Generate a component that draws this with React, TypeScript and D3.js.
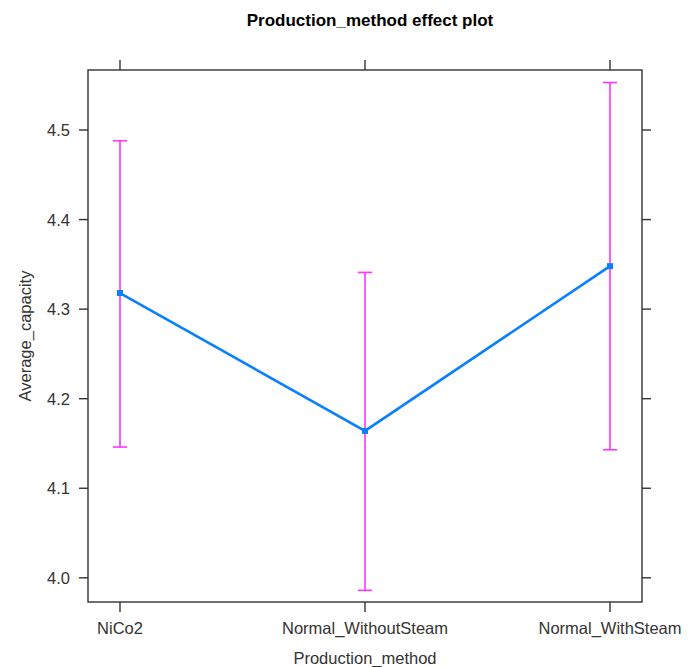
import React from 'react';
import * as d3 from 'd3';

const categories = ['NiCo2', 'Normal_WithoutSteam', 'Normal_WithSteam'];
const fitValues = [4.318, 4.164, 4.348];
const lowerValues = [4.146, 3.986, 4.143];
const upperValues = [4.488, 4.341, 4.553];
const yTicks = [4.0, 4.1, 4.2, 4.3, 4.4, 4.5];

const W = 700;
const H = 667;
const left = 88;
const right = 642;
const top = 70;
const bottom = 602;
const font = '"Liberation Sans", Arial, sans-serif';
const labelSize = 16.5;

export default function App() {
  const x = d3.scalePoint<string>().domain(categories).range([120, 610]);
  const y = d3.scaleLinear().domain([3.973, 4.567]).range([bottom, top]);

  const line = d3
    .line<number>()
    .x((_, i) => x(categories[i]) as number)
    .y((d) => y(d));

  return (
    <svg width={W} height={H} style={{ position: 'absolute', left: 0, top: 0, background: '#fff' }}>
      <text x={370} y={26} textAnchor="middle" fontFamily={font} fontWeight="bold" fontSize={17} fill="#000">
        Production_method effect plot
      </text>

      {/* panel box */}
      <rect x={left} y={top} width={right - left} height={bottom - top} fill="none" stroke="#333" strokeWidth={1.4} />

      {/* y ticks left + right */}
      {yTicks.map((t) => (
        <g key={t}>
          <line x1={left - 9} x2={left} y1={y(t)} y2={y(t)} stroke="#333" strokeWidth={1.4} />
          <line x1={right} x2={right + 9} y1={y(t)} y2={y(t)} stroke="#333" strokeWidth={1.4} />
          <text x={70} y={y(t) + 6} textAnchor="end" fontFamily={font} fontSize={labelSize} fill="#333">
            {t.toFixed(1)}
          </text>
        </g>
      ))}

      {/* x ticks bottom + top */}
      {categories.map((c) => (
        <g key={c}>
          <line x1={x(c)} x2={x(c)} y1={bottom} y2={bottom + 10} stroke="#333" strokeWidth={1.4} />
          <line x1={x(c)} x2={x(c)} y1={top - 10} y2={top} stroke="#333" strokeWidth={1.4} />
          <text x={x(c)} y={634} textAnchor="middle" fontFamily={font} fontSize={labelSize} fill="#333">
            {c}
          </text>
        </g>
      ))}

      <text x={365} y={664} textAnchor="middle" fontFamily={font} fontSize={labelSize} fill="#333">
        Production_method
      </text>
      <text
        transform={`translate(31, ${(top + bottom) / 2}) rotate(-90)`}
        textAnchor="middle"
        fontFamily={font}
        fontSize={labelSize}
        fill="#333"
      >
        Average_capacity
      </text>

      {/* error bars */}
      {categories.map((c, i) => {
        const cx = x(c) as number;
        return (
          <g key={'e' + c} stroke="#ff33ff" strokeWidth={1.6}>
            <line x1={cx} x2={cx} y1={y(lowerValues[i])} y2={y(upperValues[i])} />
            <line x1={cx - 7} x2={cx + 7} y1={y(lowerValues[i])} y2={y(lowerValues[i])} />
            <line x1={cx - 7} x2={cx + 7} y1={y(upperValues[i])} y2={y(upperValues[i])} />
          </g>
        );
      })}

      {/* fit line */}
      <path d={line(fitValues) || ''} fill="none" stroke="#0a80ff" strokeWidth={2.6} />
      {fitValues.map((v, i) => (
        <rect
          key={'p' + i}
          x={(x(categories[i]) as number) - 3}
          y={y(v) - 3}
          width={6}
          height={6}
          fill="#0a80ff"
        />
      ))}
    </svg>
  );
}
